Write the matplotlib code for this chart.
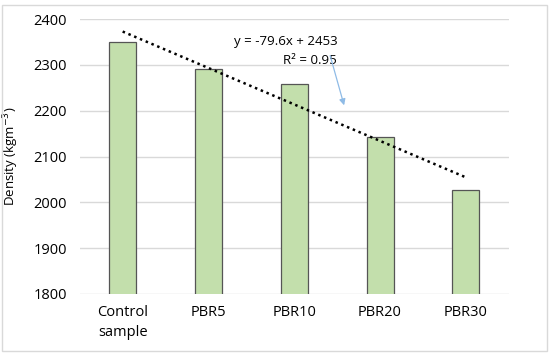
import matplotlib.pyplot as plt
import numpy as np
from matplotlib.patches import Rectangle

plt.rcParams['font.family'] = ['Open Sans', 'DejaVu Sans']

samples = ['Control\nsample', 'PBR5', 'PBR10', 'PBR20', 'PBR30']
density = [2350, 2292, 2258, 2142, 2027]

fig = plt.figure(figsize=(5.5, 3.55), dpi=100)
fig.patches.append(Rectangle((0.004, 0.012), 0.99, 0.975, transform=fig.transFigure,
                             fill=False, edgecolor='#d9d9d9', linewidth=1))
ax = fig.add_axes([0.145, 0.172, 0.78, 0.774])

x = np.arange(1, len(samples) + 1)
ax.bar(x, density, width=0.315, color='#c3dfac', edgecolor='#555555', linewidth=0.9, zorder=2)

# linear trendline like excel
z = np.polyfit(x, density, 1)
p = np.poly1d(z)
xt = np.array([x[0], x[-1]])
ax.plot(xt, p(xt), linestyle=(0, (1, 1.5)), color='black', linewidth=1.8, zorder=3)

r2 = 1 - np.sum((np.array(density) - p(x))**2) / np.sum((np.array(density) - np.mean(density))**2)
ax.text(3.5, 2337, 'y = %.1fx + %d' % (z[0], round(z[1])), ha='right', va='bottom', fontsize=9.5)
ax.text(3.5, 2295, 'R\u00b2 = %.2f' % r2, ha='right', va='bottom', fontsize=9.5)
ax.annotate('', xy=(3.59, 2206), xytext=(3.41, 2326),
            arrowprops=dict(arrowstyle='-|>', color='#8fbbe6', lw=0.9, mutation_scale=9))

ax.set_xlim(0.5, 5.5)
ax.set_ylim(1800, 2400)
ax.set_yticks(range(1800, 2401, 100))
ax.set_xticks(x)
ax.set_xticklabels(samples, linespacing=1.45)
ax.yaxis.grid(True, color='#d9d9d9', linewidth=1, zorder=0)
ax.set_axisbelow(True)
for s in ax.spines.values():
    s.set_visible(False)
ax.tick_params(length=0, labelsize=10.5, pad=8)
ax.tick_params(axis='y', pad=9)
ax.set_ylabel('Density (kgm$^{\\mathrm{-3}}$)', fontsize=9.5)
ax.yaxis.set_label_coords(-0.138, 0.5)

fig.savefig('out.png', dpi=100)
